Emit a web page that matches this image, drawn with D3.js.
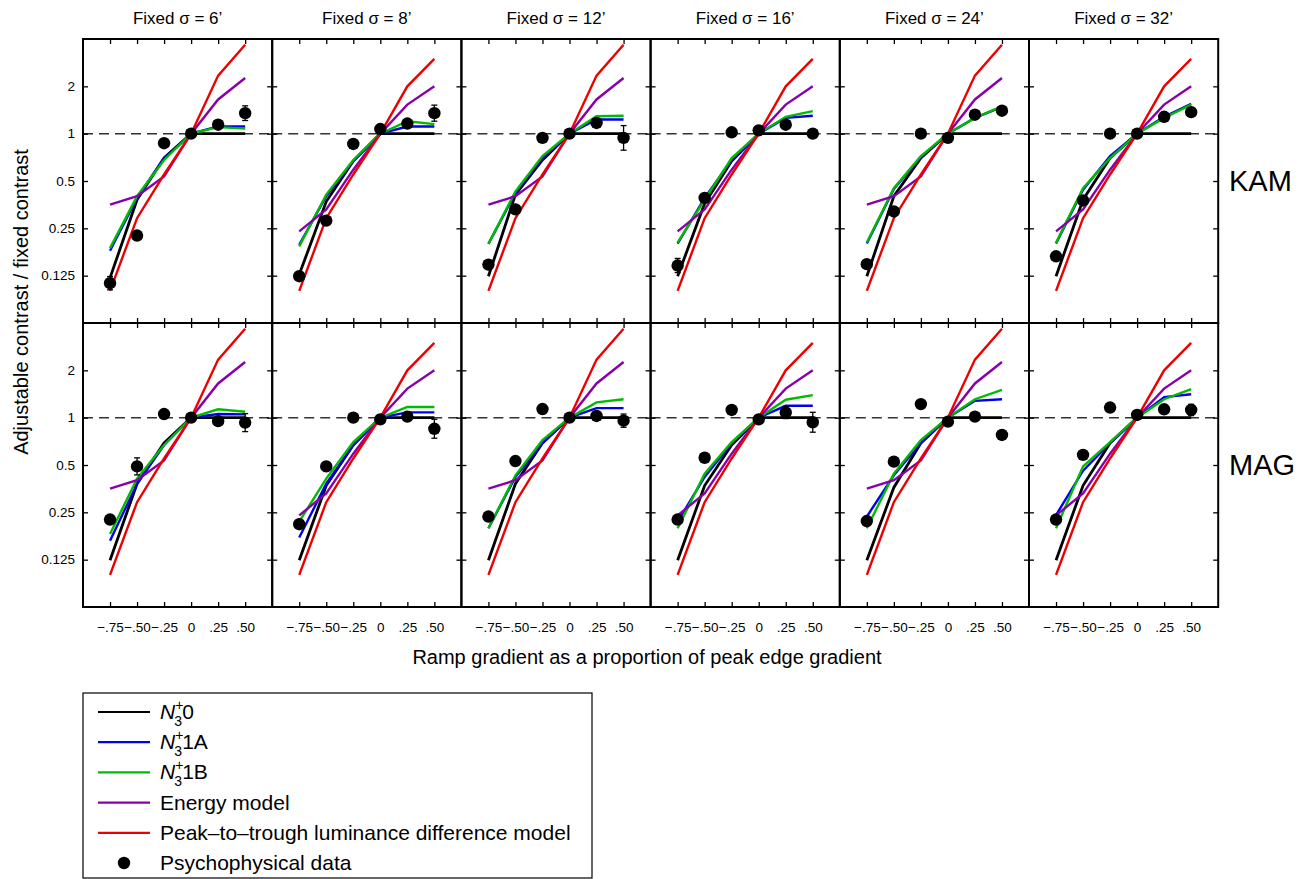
<!DOCTYPE html>
<html>
<head>
<meta charset="utf-8">
<script src="https://cdn.jsdelivr.net/npm/d3@7"></script>
<style>
  body { margin: 0; background: #fff; }
  text { font-family: "Liberation Sans", Arial, sans-serif; fill: #000; }
</style>
</head>
<body>
<div id="chart"></div>
<script>
// Panels: columns = fixed blur, rows = observers
const sigmas = ["6\u2019", "8\u2019", "12\u2019", "16\u2019", "24\u2019", "32\u2019"];
const observers = ["KAM", "MAG"];
const gradients = [-0.75, -0.5, -0.25, 0, 0.25, 0.5];
const xTickLabels = ["\u2212.75", "\u2212.50", "\u2212.25", "0", ".25", ".50"];
const yTicks = [0.125, 0.25, 0.5, 1, 2];
const yTickLabels = ["0.125", "0.25", "0.5", "1", "2"];

// KAM model predictions (one array per panel)
const kamN0 = [
  [0.121, 0.38, 0.70, 1, 1, 1], [0.127, 0.37, 0.67, 1, 1, 1], [0.124, 0.41, 0.68, 1, 1, 1],
  [0.124, 0.36, 0.67, 1, 1, 1], [0.124, 0.40, 0.70, 1, 1, 1], [0.124, 0.38, 0.70, 1, 1, 1]];
const kamN1A = [
  [0.18, 0.39, 0.70, 1, 1.11, 1.11], [0.196, 0.40, 0.67, 1, 1.11, 1.11], [0.199, 0.42, 0.70, 1, 1.23, 1.23],
  [0.20, 0.39, 0.68, 1, 1.26, 1.30], [0.20, 0.445, 0.71, 1, 1.26, 1.48], [0.20, 0.44, 0.72, 1, 1.28, 1.55]];
const kamN1B = [
  [0.187, 0.40, 0.68, 1, 1.10, 1.076], [0.192, 0.41, 0.68, 1, 1.20, 1.15], [0.199, 0.43, 0.72, 1, 1.29, 1.30],
  [0.203, 0.38, 0.70, 1, 1.28, 1.39], [0.203, 0.45, 0.72, 1, 1.26, 1.49], [0.202, 0.45, 0.70, 1, 1.26, 1.53]];
const kamEnergy = [
  [0.354, 0.40, 0.535, 1, 1.65, 2.26], [0.239, 0.33, 0.59, 1, 1.53, 2.0], [0.354, 0.40, 0.535, 1, 1.65, 2.26],
  [0.239, 0.33, 0.59, 1, 1.53, 2.0], [0.354, 0.40, 0.535, 1, 1.65, 2.26], [0.239, 0.33, 0.59, 1, 1.53, 2.0]];
const kamPeak = [
  [0.10, 0.29, 0.55, 1, 2.34, 3.68], [0.10, 0.29, 0.55, 1, 2.0, 2.99], [0.10, 0.29, 0.55, 1, 2.34, 3.68],
  [0.10, 0.29, 0.55, 1, 2.0, 2.99], [0.10, 0.29, 0.55, 1, 2.34, 3.68], [0.10, 0.29, 0.55, 1, 2.0, 2.99]];
const kamData = [
  [0.112, 0.225, 0.87, 1.0, 1.14, 1.35], [0.124, 0.28, 0.86, 1.07, 1.16, 1.35], [0.147, 0.33, 0.94, 1.0, 1.17, 0.94],
  [0.145, 0.39, 1.02, 1.05, 1.14, 1.0], [0.148, 0.32, 1.0, 0.94, 1.32, 1.40], [0.166, 0.376, 1.0, 1.0, 1.28, 1.37]];
// error bar half-span, in octaves
const kamErr = [
  [0.14, 0.05, 0.05, 0.03, 0.05, 0.155], [0.05, 0.05, 0.05, 0.05, 0.08, 0.17], [0.08, 0.05, 0.05, 0.03, 0.05, 0.26],
  [0.15, 0.05, 0.05, 0.05, 0.05, 0.05], [0.05, 0.05, 0.05, 0.03, 0.05, 0.05], [0.05, 0.05, 0.05, 0.03, 0.05, 0.05]];

// MAG model predictions
const magN0 = [
  [0.124, 0.38, 0.69, 1, 1, 1], [0.124, 0.37, 0.67, 1, 1, 1], [0.124, 0.38, 0.69, 1, 1, 1],
  [0.124, 0.37, 0.67, 1, 1, 1], [0.124, 0.36, 0.69, 1, 1, 1], [0.124, 0.37, 0.69, 1, 1, 1]];
const magN1A = [
  [0.165, 0.38, 0.67, 1, 1.055, 1.05], [0.173, 0.38, 0.67, 1, 1.08, 1.08], [0.198, 0.42, 0.69, 1, 1.15, 1.15],
  [0.218, 0.42, 0.69, 1, 1.19, 1.19], [0.235, 0.43, 0.69, 1, 1.28, 1.31], [0.24, 0.46, 0.69, 1, 1.35, 1.41]];
const magN1B = [
  [0.182, 0.41, 0.67, 1, 1.13, 1.09], [0.218, 0.41, 0.70, 1, 1.17, 1.17], [0.198, 0.43, 0.72, 1, 1.25, 1.31],
  [0.198, 0.44, 0.70, 1, 1.30, 1.39], [0.198, 0.44, 0.72, 1, 1.31, 1.50], [0.198, 0.49, 0.70, 1, 1.31, 1.52]];
const magEnergy = kamEnergy;
const magPeak = kamPeak;
const magData = [
  [0.225, 0.49, 1.055, 1.0, 0.95, 0.93], [0.21, 0.49, 1.0, 0.975, 1.015, 0.85], [0.235, 0.53, 1.135, 1.0, 1.025, 0.957],
  [0.225, 0.556, 1.12, 0.975, 1.08, 0.935], [0.22, 0.525, 1.22, 0.943, 1.015, 0.776], [0.225, 0.58, 1.16, 1.04, 1.13, 1.12]];
const magErr = [
  [0.05, 0.18, 0.05, 0.03, 0.05, 0.19], [0.05, 0.05, 0.05, 0.03, 0.05, 0.2], [0.05, 0.05, 0.05, 0.03, 0.05, 0.14],
  [0.05, 0.05, 0.05, 0.03, 0.13, 0.21], [0.05, 0.05, 0.05, 0.03, 0.05, 0.05], [0.05, 0.05, 0.05, 0.03, 0.05, 0.12]];

const models = [
  { name: "N0", color: "#000000", width: 2.8, kam: kamN0, mag: magN0 },
  { name: "N1A", color: "#0000ee", width: 2.4, kam: kamN1A, mag: magN1A },
  { name: "N1B", color: "#00bb00", width: 2.4, kam: kamN1B, mag: magN1B },
  { name: "Energy model", color: "#8800aa", width: 2.4, kam: kamEnergy, mag: magEnergy },
  { name: "Peak\u2013to\u2013trough luminance difference model", color: "#ee0000", width: 2.4, kam: kamPeak, mag: magPeak }
];
const dataSets = { kam: { data: kamData, err: kamErr }, mag: { data: magData, err: magErr } };

const W = 1313, H = 879;
const panelLeft = 83, panelTop = 39;
const pw = 189.2, ph = 284;

const svg = d3.select("#chart").append("svg")
  .attr("width", W).attr("height", H);

const x = d3.scaleLinear().domain([-1, 0.75]).range([0, pw]);
const y = d3.scaleLog().base(2).domain([0.0625, 4]).range([ph, 0]);

const line = d3.line()
  .x((d, i) => x(gradients[i]))
  .y(d => y(d));

observers.forEach((obs, r) => {
  const key = obs.toLowerCase();
  sigmas.forEach((sig, c) => {
    const g = svg.append("g")
      .attr("transform", `translate(${panelLeft + c * pw},${panelTop + r * ph})`);

    // reference line at 1
    g.append("line")
      .attr("x1", 0).attr("x2", pw)
      .attr("y1", y(1)).attr("y2", y(1))
      .attr("stroke", "#333").attr("stroke-width", 1.5)
      .attr("stroke-dasharray", "10,6");

    // model curves
    models.forEach(m => {
      g.append("path")
        .datum(m[key][c])
        .attr("d", line)
        .attr("fill", "none")
        .attr("stroke", m.color)
        .attr("stroke-width", m.width);
    });

    // psychophysical data with error bars
    const ds = dataSets[key];
    const pts = ds.data[c].map((v, i) => ({ x: gradients[i], v: v, e: ds.err[c][i] }));
    const eb = g.append("g").selectAll("g").data(pts).enter().append("g");
    eb.append("line")
      .attr("x1", d => x(d.x)).attr("x2", d => x(d.x))
      .attr("y1", d => y(d.v * Math.pow(2, d.e))).attr("y2", d => y(d.v / Math.pow(2, d.e)))
      .attr("stroke", "#000").attr("stroke-width", 1.3);
    ["lo", "hi"].forEach(s => {
      eb.append("line")
        .attr("x1", d => x(d.x) - 3).attr("x2", d => x(d.x) + 3)
        .attr("y1", d => y(s === "lo" ? d.v / Math.pow(2, d.e) : d.v * Math.pow(2, d.e)))
        .attr("y2", d => y(s === "lo" ? d.v / Math.pow(2, d.e) : d.v * Math.pow(2, d.e)))
        .attr("stroke", "#000").attr("stroke-width", 1.3);
    });
    g.append("g").selectAll("circle").data(pts).enter().append("circle")
      .attr("cx", d => x(d.x)).attr("cy", d => y(d.v))
      .attr("r", 6.2).attr("fill", "#000");

    // axes with inward ticks
    const bottomAxis = d3.axisBottom(x).tickValues(gradients).tickSize(-5).tickPadding(15)
      .tickFormat((d, i) => r === 1 ? xTickLabels[i] : "");
    const topAxis = d3.axisTop(x).tickValues(gradients).tickSize(-5).tickFormat("");
    const leftAxis = d3.axisLeft(y).tickValues(yTicks).tickSize(-5).tickPadding(8)
      .tickFormat((d, i) => c === 0 ? yTickLabels[i] : "");
    const rightAxis = d3.axisRight(y).tickValues(yTicks).tickSize(-5).tickFormat("");

    [
      g.append("g").attr("transform", `translate(0,${ph})`).call(bottomAxis),
      g.append("g").call(topAxis),
      g.append("g").call(leftAxis),
      g.append("g").attr("transform", `translate(${pw},0)`).call(rightAxis)
    ].forEach(a => {
      a.select(".domain").remove();
      a.selectAll("line").attr("stroke", "#000").attr("stroke-width", 1.3);
      a.selectAll("text").style("font-size", "13.5px")
        .style("font-family", "'Liberation Sans', Arial, sans-serif").attr("fill", "#000");
    });

    // frame
    g.append("rect")
      .attr("width", pw).attr("height", ph)
      .attr("fill", "none").attr("stroke", "#000").attr("stroke-width", 2);

    if (r === 0) {
      svg.append("text")
        .attr("x", panelLeft + c * pw + pw / 2)
        .attr("y", 24)
        .attr("text-anchor", "middle")
        .style("font-size", "17px")
        .text(`Fixed \u03c3 = ${sig}`);
    }
  });

  // observer label
  svg.append("text")
    .attr("x", 1229)
    .attr("y", panelTop + r * ph + ph / 2 + 10)
    .style("font-size", "29px")
    .text(obs);
});

// axis titles
svg.append("text")
  .attr("transform", `translate(28,${302}) rotate(-90)`)
  .attr("text-anchor", "middle")
  .style("font-size", "20px")
  .text("Adjustable contrast / fixed contrast");

svg.append("text")
  .attr("x", 647)
  .attr("y", 664)
  .attr("text-anchor", "middle")
  .style("font-size", "20px")
  .text("Ramp gradient as a proportion of peak edge gradient");

// legend
const legend = svg.append("g");
legend.append("rect")
  .attr("x", 83).attr("y", 693).attr("width", 509).attr("height", 185)
  .attr("fill", "#fff").attr("stroke", "#000").attr("stroke-width", 1.2);

const legendRows = models.map(m => ({ type: "line", m: m }))
  .concat([{ type: "dot", label: "Psychophysical data" }]);

legendRows.forEach((d, i) => {
  const ly = 712 + i * 30.2;
  if (d.type === "line") {
    legend.append("line")
      .attr("x1", 98).attr("x2", 150).attr("y1", ly).attr("y2", ly)
      .attr("stroke", d.m.color).attr("stroke-width", 2.2);
  } else {
    legend.append("circle").attr("cx", 124).attr("cy", ly).attr("r", 6.2).attr("fill", "#000");
  }
  const t = legend.append("text")
    .attr("x", 160).attr("y", ly + 7)
    .style("font-size", "21px");
  if (i < 3) {
    t.append("tspan").style("font-style", "italic").text("N");
    t.append("tspan").attr("dy", -9).style("font-size", "14px").text("+");
    t.append("tspan").attr("dx", -9).attr("dy", 16).style("font-size", "14px").text("3");
    t.append("tspan").attr("dy", -7).text(d.m.name.slice(1));
  } else {
    t.text(d.type === "line" ? d.m.name : d.label);
  }
});
</script>
</body>
</html>
